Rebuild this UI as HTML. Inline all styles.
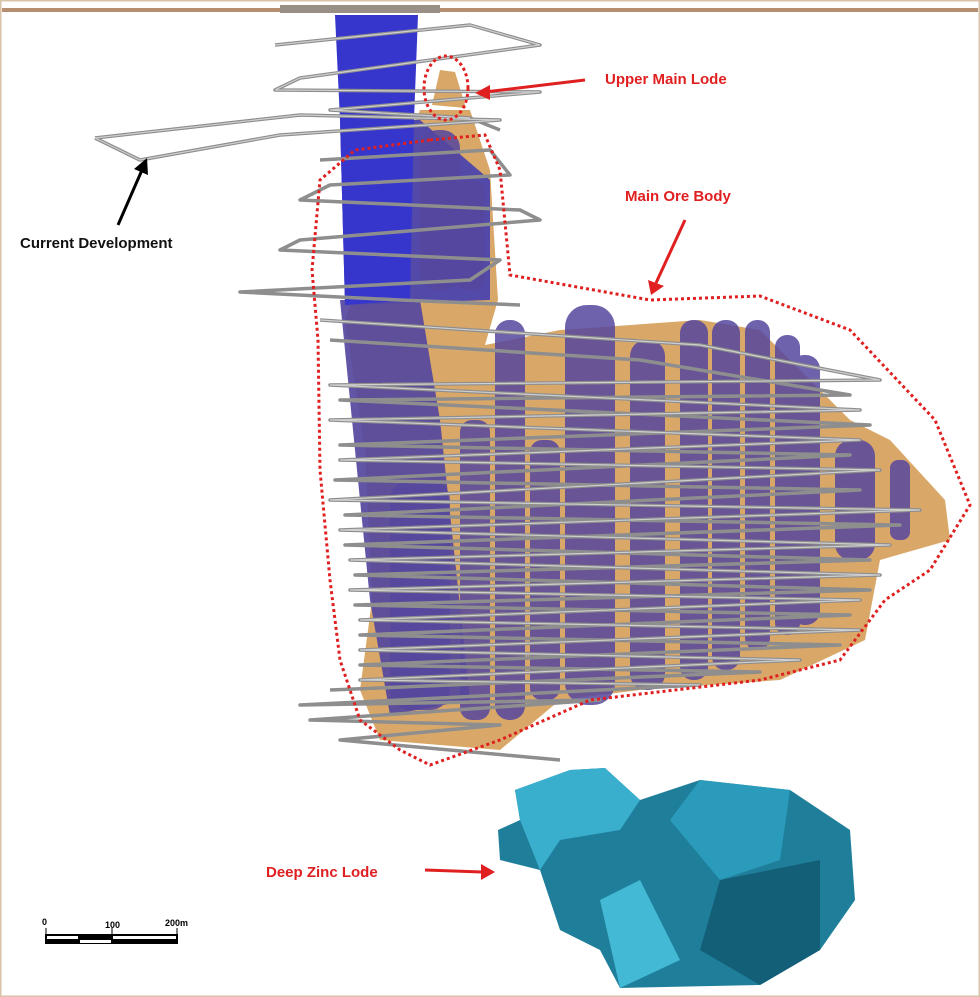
<!DOCTYPE html>
<html><head><meta charset="utf-8"><style>
html,body{margin:0;padding:0;background:#fff}
svg{display:block}
text{font-family:"Liberation Sans",sans-serif;font-weight:bold}
</style></head><body>
<svg width="980" height="997" viewBox="0 0 980 997" xmlns="http://www.w3.org/2000/svg">
<rect x="0.5" y="0.5" width="979" height="996" fill="#fff" stroke="#d9c3a8" stroke-width="2"/>
<rect x="2" y="8" width="976" height="4" fill="#b58f70"/>
<rect x="280" y="5" width="160" height="8" fill="#9a8f86"/>
<!-- tan main body -->
<polygon fill="#d9a868" points="420,110 470,110 490,170 498,300 485,345 560,330 700,320 760,330 850,420 890,440 945,500 950,540 880,560 865,640 780,680 640,690 560,700 500,750 380,740 360,690 372,600 365,450 345,320" />
<polygon fill="#d9a868" points="432,105 440,70 455,72 466,108"/>
<!-- purple column -->
<polygon fill="#55479e" opacity="0.92" points="340,300 420,300 440,420 455,560 470,700 390,715 370,600 355,450"/>
<polygon fill="#5249a8" points="340,120 420,120 490,180 490,300 345,305"/>
<polygon fill="#3636cc" points="335,15 418,15 414,120 410,300 345,305 340,120"/>
<g fill="#56479f" opacity="0.85">
<rect x="420" y="130" width="40" height="160" rx="18"/>
<rect x="455" y="180" width="30" height="110" rx="12"/>
<rect x="495" y="320" width="30" height="400" rx="14"/>
<rect x="565" y="305" width="50" height="400" rx="22"/>
<rect x="630" y="340" width="35" height="350" rx="16"/>
<rect x="680" y="320" width="28" height="360" rx="13"/>
<rect x="712" y="320" width="28" height="350" rx="13"/>
<rect x="745" y="320" width="25" height="330" rx="12"/>
<rect x="775" y="335" width="25" height="300" rx="12"/>
<rect x="790" y="355" width="30" height="270" rx="14"/>
<rect x="835" y="440" width="40" height="120" rx="16"/>
<rect x="890" y="460" width="20" height="80" rx="8"/>
<rect x="530" y="440" width="30" height="260" rx="12"/>
<rect x="460" y="420" width="30" height="300" rx="12"/>
<rect x="390" y="480" width="60" height="230" rx="20"/>
</g>
<!-- ramps -->
<g stroke="#8e8e8e" stroke-width="3.5" fill="none" stroke-linejoin="round">
<polyline points="275,45 470,25 540,45 300,78 275,90 540,92 330,110 470,118 500,130"/>
<polyline points="95,138 300,115 500,120 280,135 140,160 95,138"/>
<polyline points="320,160 490,150 510,175 330,185 300,200 520,210 540,220 300,240 280,250 500,260 470,280 240,292 400,300 520,305"/>
<polyline points="320,320 700,345 880,380 330,385 860,410 330,420 860,440 340,460 880,470 330,500 920,510 340,530 890,545 350,560 880,575 350,590 860,600 360,620 860,630 360,650 800,660 360,680 700,685 300,705 600,700 310,720 500,725 340,740 560,760"/>
<polyline points="330,340 640,360 850,395 340,400 870,425 340,445 850,455 335,480 860,490 345,515 900,525 345,545 870,560 355,575 870,590 355,605 850,615 360,635 840,645 360,665 760,672 330,690"/>
</g>
<g stroke="#cfcfcf" stroke-width="1.2" fill="none">
<polyline points="275,45 470,25 540,45 300,78 275,90 540,92 330,110 470,118"/>
<polyline points="95,138 300,115 500,120 280,135 140,160 95,138"/>
<polyline points="320,320 700,345 880,380 330,385 860,410 330,420 860,440 340,460 880,470 330,500 920,510 340,530 890,545 350,560 880,575 350,590 860,600 360,620 860,630 360,650 800,660 360,680 700,685"/>
</g>
<!-- red dotted outlines -->
<g stroke="#e02020" stroke-width="3" fill="none" stroke-dasharray="3,3">
<ellipse cx="446" cy="88" rx="22" ry="32"/>
<polygon points="430,140 485,135 500,170 510,275 650,300 760,296 850,330 935,420 970,505 930,570 885,600 840,660 760,680 590,700 500,740 430,765 400,750 360,720 340,660 330,580 320,470 318,340 312,270 320,180 355,150"/>
</g>
<!-- arrows -->
<g stroke="#e02020" stroke-width="3" fill="#e02020">
<line x1="585" y1="80" x2="485" y2="92"/>
<polygon points="475,93 490,85 490,100" stroke="none"/>
<line x1="685" y1="220" x2="656" y2="283"/>
<polygon points="651,295 648,280 664,286" stroke="none"/>
<line x1="425" y1="870" x2="482" y2="872"/>
<polygon points="495,872 481,864 481,880" stroke="none"/>
</g>
<g stroke="#000" stroke-width="3" fill="#000">
<line x1="118" y1="225" x2="142" y2="170"/>
<polygon points="147,158 148,175 134,169" stroke="none"/>
</g>
<!-- deep zinc -->
<polygon fill="#1f7f9a" points="515,790 570,770 605,768 640,800 700,780 790,790 850,830 855,900 820,950 760,985 620,988 600,950 560,930 540,870 500,860 498,830 520,820"/>
<polygon fill="#3aaecd" points="515,790 570,770 605,768 640,800 620,830 560,840 540,870 520,820"/>
<polygon fill="#2b9bbb" points="700,780 790,790 780,860 720,880 670,820"/>
<polygon fill="#145f78" points="720,880 820,860 820,950 760,985 700,950"/>
<polygon fill="#44b9d6" points="600,900 640,880 680,960 620,988"/>
<!-- labels -->
<text x="605" y="84" font-size="15" fill="#e02020">Upper Main Lode</text>
<text x="625" y="201" font-size="15" fill="#e02020">Main Ore Body</text>
<text x="20" y="248" font-size="15" fill="#111">Current Development</text>
<text x="266" y="877" font-size="15" fill="#e02020">Deep Zinc Lode</text>
<!-- scale bar -->
<g font-family="Liberation Sans" font-size="9" fill="#000">
<text x="42" y="925" font-weight="normal">0</text>
<text x="105" y="928" font-weight="normal">100</text>
<text x="165" y="926" font-weight="normal">200m</text>
</g>
<rect x="45" y="934" width="133" height="10" fill="#000"/>
<rect x="47" y="936" width="31" height="3" fill="#fff"/>
<rect x="80" y="940" width="31" height="3" fill="#fff"/>
<rect x="113" y="936" width="63" height="3" fill="#fff"/>
<line x1="46" y1="928" x2="46" y2="934" stroke="#000"/>
<line x1="112" y1="928" x2="112" y2="934" stroke="#000"/>
<line x1="177" y1="928" x2="177" y2="934" stroke="#000"/>
</svg>
</body></html>
